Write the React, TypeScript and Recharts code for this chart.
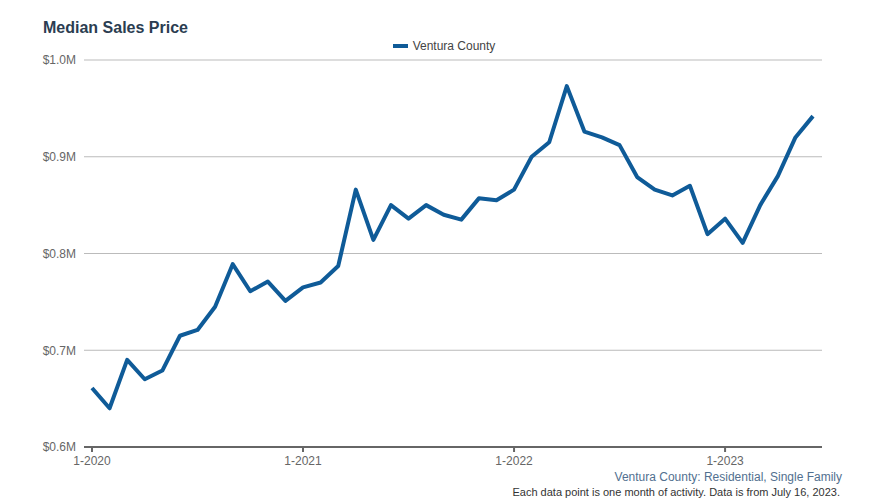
import React from "react";
import { LineChart, Line, XAxis, YAxis, CartesianGrid } from "recharts";

// months Jan 2020 .. Jun 2023
const MONTHS = [
  "1-2020","2-2020","3-2020","4-2020","5-2020","6-2020","7-2020","8-2020","9-2020","10-2020","11-2020","12-2020",
  "1-2021","2-2021","3-2021","4-2021","5-2021","6-2021","7-2021","8-2021","9-2021","10-2021","11-2021","12-2021",
  "1-2022","2-2022","3-2022","4-2022","5-2022","6-2022","7-2022","8-2022","9-2022","10-2022","11-2022","12-2022",
  "1-2023","2-2023","3-2023","4-2023","5-2023","6-2023",
];

const PRICES = [
  661000, 640000, 690000, 670000, 679000, 715000, 721000, 745000, 789000, 761000, 771000, 751000,
  765000, 770000, 787000, 866000, 814000, 850000, 836000, 850000, 840000, 835000, 857000, 855000,
  866000, 900000, 915000, 973000, 926000, 920000, 912000, 879000, 866000, 860000, 870000, 820000,
  836000, 811000, 850000, 880000, 920000, 942000,
];

const Y_TICKS = [600000, 700000, 800000, 900000, 1000000];

const SERIES_NAME = "Ventura County";
const LINE_COLOR = "#0f5b98";
const FONT = "'Liberation Sans', Arial, sans-serif";

const data = MONTHS.map((m, i) => ({ month: m, price: PRICES[i] }));

const fmtM = (v: number) => "$" + (v / 1000000).toFixed(1) + "M";

export default function App() {
  return (
    <div style={{ position: "absolute", left: 0, top: 0, width: 888, height: 500, background: "#fff", fontFamily: FONT }}>
      <div style={{ position: "absolute", left: 43, top: 19, fontSize: 16, fontWeight: "bold", color: "#2b3d51" }}>
        Median Sales Price
      </div>
      {/* legend */}
      <div style={{ position: "absolute", left: 0, top: 39, width: 888, display: "flex", justifyContent: "center", alignItems: "center", fontSize: 12, color: "#444" }}>
        <span style={{ display: "inline-block", width: 15, height: 4, background: LINE_COLOR, marginRight: 5 }} />
        <span>{SERIES_NAME}</span>
      </div>
      <LineChart width={888} height={500} data={data} margin={{ top: 60, right: 66, bottom: 23, left: 0 }}>
        <CartesianGrid vertical={false} stroke="#bbbbbb" strokeWidth={1} />
        <XAxis
          dataKey="month"
          interval={11}
          padding={{ left: 8, right: 9 }}
          axisLine={{ stroke: "#666", strokeWidth: 2 }}
          tickLine={{ stroke: "#666", strokeWidth: 2 }}
          tickSize={5}
          tickMargin={4}
          tick={{ fill: "#666", fontSize: 12, fontFamily: FONT }}
        />
        <YAxis
          width={84}
          domain={[600000, 1000000]}
          ticks={Y_TICKS}
          tickFormatter={fmtM}
          axisLine={false}
          tickLine={false}
          tick={{ fill: "#666", fontSize: 12, fontFamily: FONT }}
        />
        <Line
          type="linear"
          dataKey="price"
          name={SERIES_NAME}
          stroke={LINE_COLOR}
          strokeWidth={4}
          dot={false}
          strokeLinejoin="round"
          isAnimationActive={false}
        />
      </LineChart>
      <div style={{ position: "absolute", right: 46, top: 470, fontSize: 12, color: "#52708f" }}>
        Ventura County: Residential, Single Family
      </div>
      <div style={{ position: "absolute", right: 48, top: 486, fontSize: 11, color: "#333" }}>
        Each data point is one month of activity. Data is from July 16, 2023.
      </div>
    </div>
  );
}
